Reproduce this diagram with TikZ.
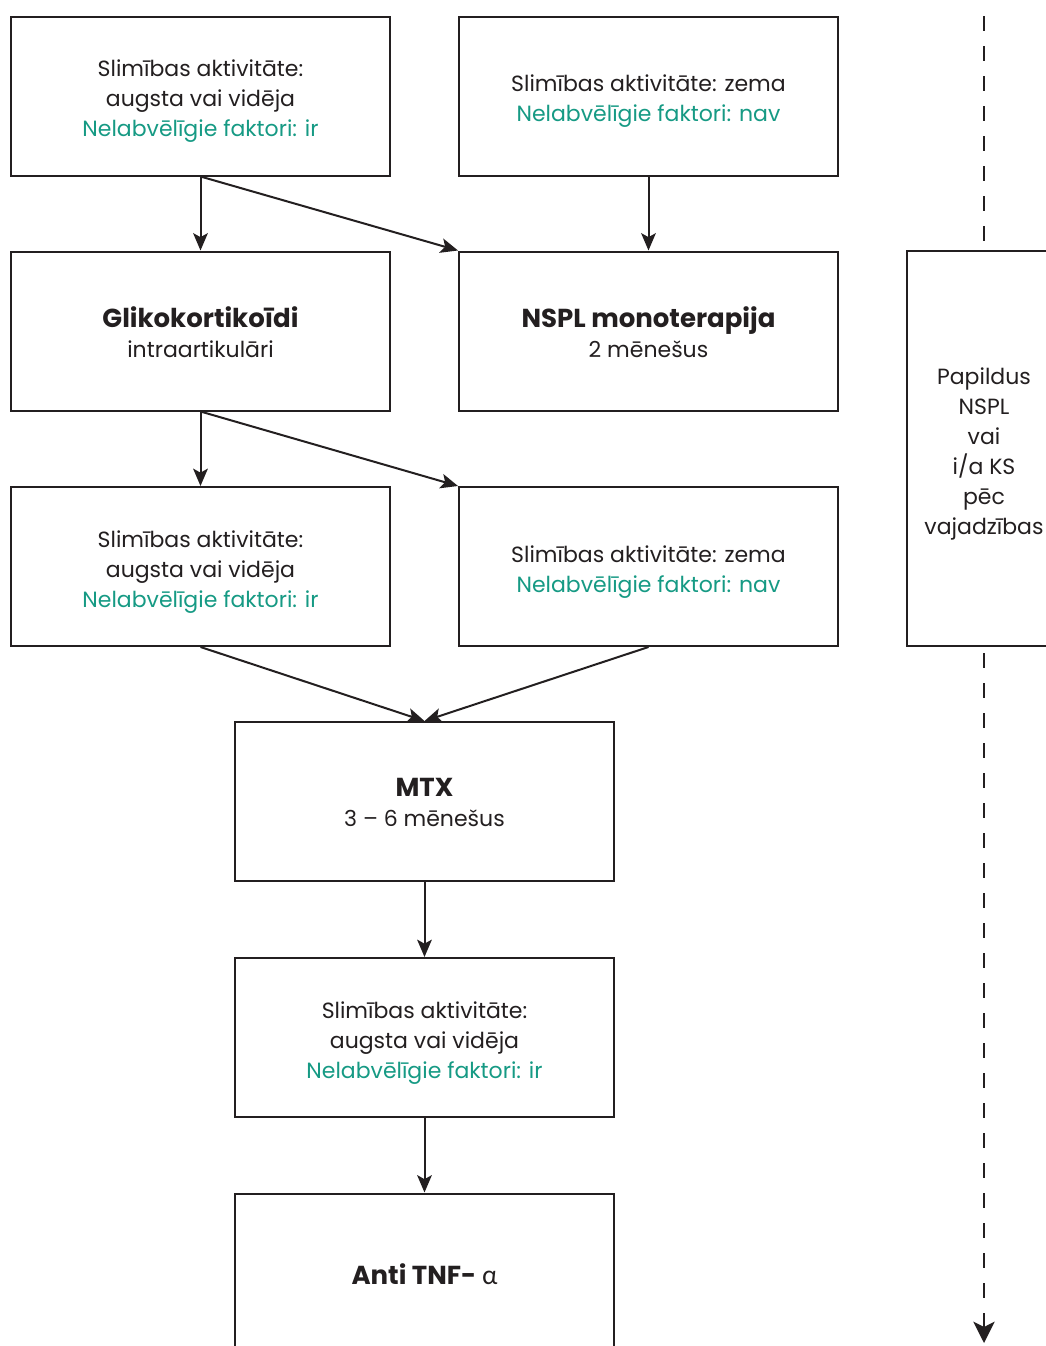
\documentclass[tikz,border=0pt]{standalone}
\usepackage{fontspec}
\setmainfont{Poppins}
\newfontfamily\grk{Lato}
\usetikzlibrary{arrows.meta,positioning}
\definecolor{ink}{RGB}{35,31,32}
\definecolor{teal}{RGB}{22,154,132}
\tikzset{
  x=0.75pt, y=-0.75pt,
  box/.style={draw=ink, line width=1.5pt, minimum width=284.25pt, minimum height=119.25pt,
    inner sep=0pt},
  sidebox/.style={box, minimum width=115.5pt, minimum height=296.25pt},
  boxtext/.style={align=center, inner sep=0pt, yshift=-3.9pt,
    font=\fontsize{16.5}{22.5}\selectfont, text=ink},
  headtext/.style={boxtext, yshift=3pt},
  flow/.style={draw=ink, line width=1.5pt, -{Stealth[length=13pt, width=11pt, inset=3pt]}},
  guide/.style={draw=ink, line width=1.5pt, dash pattern=on 11.25pt off 11.25pt},
}
\newcommand{\bad}[1]{\textcolor{teal}{#1}}
\newcommand{\hd}[1]{{\fontsize{19.5}{22.5}\selectfont\bfseries #1}}
\begin{document}
\begin{tikzpicture}
\clip (0,0) rectangle (1046,1346);
\fill[white] (0,0) rectangle (1046,1346);

% first assessment
\node[box, label={[boxtext]center:Slimības aktivitāte:\\augsta vai vidēja\\\bad{Nelabvēlīgie faktori: ir}}] (a1) at (200.5,96) {};
\node[box, label={[boxtext]center:Slimības aktivitāte: zema\\\bad{Nelabvēlīgie faktori: nav}}] (a2) at (648.5,96) {};

% initial therapy
\node[box, label={[headtext]center:\hd{Glikokortikoīdi}\\intraartikulāri}] (b1) at (200.5,331) {};
\node[box, label={[headtext]center:\hd{NSPL monoterapija}\\2 mēnešus}] (b2) at (648.5,331) {};

% second assessment
\node[box, label={[boxtext]center:Slimības aktivitāte:\\augsta vai vidēja\\\bad{Nelabvēlīgie faktori: ir}}] (c1) at (200.5,566.5) {};
\node[box, label={[boxtext]center:Slimības aktivitāte: zema\\\bad{Nelabvēlīgie faktori: nav}}] (c2) at (648.5,566.5) {};

% escalation
\node[box, label={[headtext]center:\hd{MTX}\\3 -- 6 mēnešus}] (d) at (424.5,801.5) {};
\node[box, label={[boxtext]center:Slimības aktivitāte:\\augsta vai vidēja\\\bad{Nelabvēlīgie faktori: ir}}] (e) at (424.5,1037.5) {};
\node[box, label={[headtext]center:\hd{Anti TNF-} {\fontsize{19.5}{22.5}\selectfont\grk α}}] (f) at (424.5,1273) {};

% supportive treatment alongside
\node[sidebox, label={[boxtext]center:Papildus\\NSPL\\vai\\i/a KS\\pēc\\vajadzības}] (r) at (984,448.5) {};
\coordinate (rtop) at (984,16);
\coordinate (rend) at (984,1343);

\draw[flow] (a1.south) -- (b1.north);
\draw[flow] (a1.south) -- (b2.north west);
\draw[flow] (a2.south) -- (b2.north);
\draw[flow] (b1.south) -- (c1.north);
\draw[flow] (b1.south) -- (c2.north west);
\draw[flow] (c1.south) -- (d.north);
\draw[flow] (c2.south) -- (d.north);
\draw[flow] (d.south) -- (e.north);
\draw[flow] (e.south) -- (f.north);

\draw[guide] (rtop) -- (r.north);
\draw[guide, dash phase=18pt, -{Stealth[length=16pt, width=16pt, inset=4pt]}] (r.south) -- (rend);
\end{tikzpicture}
\end{document}
